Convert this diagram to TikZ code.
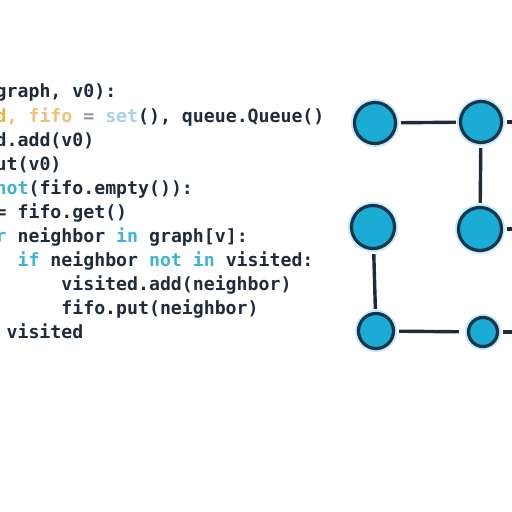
\documentclass[tikz,border=0pt]{standalone}
\usepackage{fontspec}
\setmonofont{DejaVu Sans Mono}
\usetikzlibrary{positioning}
\definecolor{codeink}{HTML}{1F2B3A}
\definecolor{kwblue}{HTML}{3BB4D6}
\definecolor{setblue}{HTML}{A6D2E8}
\definecolor{varorange}{HTML}{F0C07A}
\definecolor{varyellow}{HTML}{E8B23A}
\definecolor{opgray}{HTML}{8E969F}
\definecolor{nodefill}{HTML}{1AACD4}
\definecolor{nodeline}{HTML}{17354B}
\tikzset{
  code/.style={font=\ttfamily\bfseries\fontsize{18.2}{18.2}\selectfont, text=codeink, inner sep=0pt, anchor=base west},
  vertex/.style={circle, draw=nodeline, fill=nodefill, line width=3.2pt, inner sep=0pt,
    preaction={draw=nodefill!25, line width=7pt}},
  edge/.style={draw=codeink, line width=3.4pt, shorten <=4pt, shorten >=3pt}
}
\newcommand{\kw}[1]{\textcolor{kwblue}{#1}}

\begin{document}
\begin{tikzpicture}[x=1pt,y=1pt]
  \useasboundingbox (0,0) rectangle (512,512);
  \clip (0,0) rectangle (512,512);
  % code listing, cut at the left border
  \node[code] (line1) at (-4.5,414) {graph, v0):};
  \node[code] (line2) at (-4.5,389.9) {\textcolor{varyellow}{d}\textcolor{varorange}{, fifo} \textcolor{opgray}{=} \textcolor{setblue}{set}(), queue.Queue()};
  \node[code] (line3) at (-4.5,365.8) {d.add(v0)};
  \node[code] (line4) at (-4.5,341.7) {ut(v0)};
  \node[code] (line5) at (-4.5,317.6) {\kw{not}(fifo.empty()):};
  \node[code] (line6) at (-4.5,293.5) {= fifo.get()};
  \node[code] (line7) at (-4.5,269.4) {\kw{r} neighbor \kw{in} graph[v]:};
  \node[code] (line8) at (17.4,245.3) {\kw{if} neighbor \kw{not} \kw{in} visited:};
  \node[code] (line9) at (61.2,221.2) {visited.add(neighbor)};
  \node[code] (line10) at (61.2,197.1) {fifo.put(neighbor)};
  \node[code] (line11) at (6.4,173) {visited};
  % graph
  \node[vertex, minimum size=41pt] (a) at (375,389) {};
  \node[vertex, minimum size=41pt] (b) at (481,390) {};
  \node[vertex, minimum size=43pt] (c) at (373,285) {};
  \node[vertex, minimum size=43pt] (d) at (480,283) {};
  \node[vertex, minimum size=35pt] (e) at (376,181) {};
  \node[vertex, minimum size=29pt] (f) at (483,180) {};
  \coordinate (bout) at (512,390);
  \coordinate (dout) at (512,283);
  \coordinate (fout) at (512,180);
  \draw[edge] (a) -- (b);
  \draw[edge] (b) -- (d);
  \draw[edge] (c) -- (e);
  \draw[edge, shorten >=8pt] (e) -- (f);
  \draw[edge, shorten >=0pt] (b) -- (bout);
  \draw[edge, shorten >=0pt] (d) -- (dout);
  \draw[edge, shorten >=0pt] (f) -- (fout);
\end{tikzpicture}
\end{document}
